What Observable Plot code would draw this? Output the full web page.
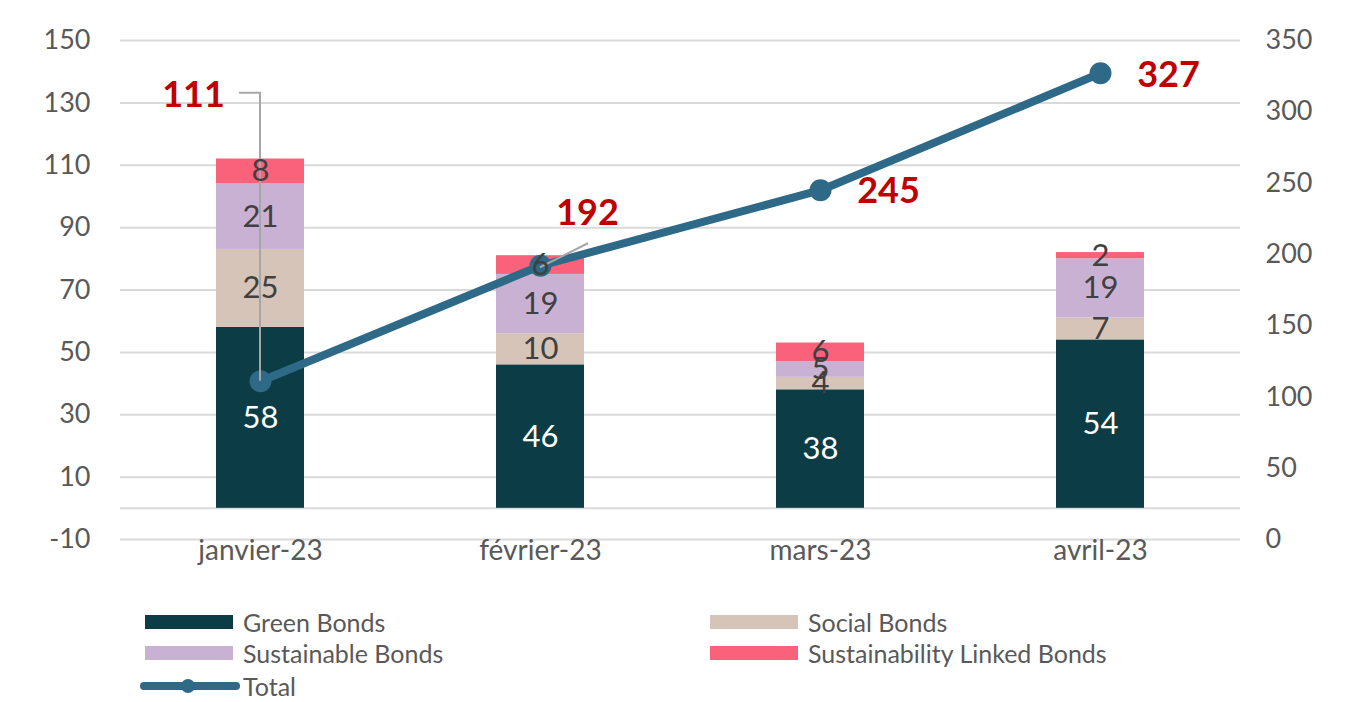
<!DOCTYPE html>
<html>
<head>
<meta charset="utf-8">
<script src="https://cdn.jsdelivr.net/npm/d3@7"></script>
<script src="https://cdn.jsdelivr.net/npm/@observablehq/plot@0.6"></script>
<style>
  body { margin: 0; background: #ffffff; font-family: Lato, "Open Sans", sans-serif; }
  #wrap { position: relative; width: 1359px; height: 702px; }
  #legend { position: absolute; left: 0; top: 590px; width: 1359px; height: 112px; color: #595959; font-size: 25px; }
  .item { position: absolute; display: flex; align-items: center; height: 30px; }
  .sw { width: 88px; height: 14px; margin-right: 10px; }
</style>
</head>
<body>
<div id="wrap"><div id="chart"></div><div id="legend"></div></div>
<script>
const months = ["janvier-23", "février-23", "mars-23", "avril-23"];
const greenBonds = [58, 46, 38, 54];
const socialBonds = [25, 10, 4, 7];
const sustainableBonds = [21, 19, 5, 19];
const linkedBonds = [8, 6, 6, 2];
const totals = [111, 192, 245, 327];
const seriesNames = ["Green Bonds", "Social Bonds", "Sustainable Bonds", "Sustainability Linked Bonds"];
const seriesColors = ["#0c3c45", "#d6c4b9", "#c9b1d4", "#fa617a"];
const totalName = "Total";
const totalColor = "#2e6a87";
const leftTicks = [-10, 10, 30, 50, 70, 90, 110, 130, 150];
const rightTicks = [0, 50, 100, 150, 200, 250, 300, 350];

const leftMin = -10, leftMax = 150, rightMin = 0, rightMax = 350;
const toLeft = r => leftMin + (r - rightMin) * (leftMax - leftMin) / (rightMax - rightMin);
const toRight = l => rightMin + (l - leftMin) * (rightMax - rightMin) / (leftMax - leftMin);

const seriesValues = [greenBonds, socialBonds, sustainableBonds, linkedBonds];
const rows = [];
months.forEach((m, i) => {
  let acc = 0;
  seriesValues.forEach((vals, s) => {
    const v = vals[i];
    rows.push({month: m, series: seriesNames[s], value: v, y1: acc, y2: acc + v, mid: acc + v / 2});
    acc += v;
  });
});
const totalRows = months.map((m, i) => ({month: m, total: totals[i], y: toLeft(totals[i])}));

function leaders(index, scales) {
  const xs = scales.x;
  const bwRaw = xs.bandwidth;
  const bw = typeof bwRaw === "function" ? bwRaw() : (bwRaw || 0);
  const cx = m => xs(m) + bw / 2;
  const g = d3.create("svg:g").attr("stroke", "#a6a6a6").attr("stroke-width", 2).attr("fill", "none");
  const x0 = cx(totalRows[0].month), y0 = scales.y(totalRows[0].y);
  g.append("path").attr("d", `M${x0 - 21},${y0 - 288}H${x0}V${y0}`);
  const x1 = cx(totalRows[1].month), y1 = scales.y(totalRows[1].y);
  g.append("path").attr("d", `M${x1},${y1 + 2}L${x1 + 48},${y1 - 22}`);
  return g.node();
}

const totalLabelOffsets = [[-67, -286], [47, -52], [68, 1], [68, 2]];

const chart = Plot.plot({
  width: 1359,
  height: 590,
  marginLeft: 120,
  marginRight: 119,
  marginTop: 40,
  marginBottom: 51,
  style: {fontFamily: "Lato, 'Open Sans', sans-serif", color: "#595959", background: "#ffffff"},
  x: {domain: months, padding: 0, axis: null, label: null},
  y: {domain: [leftMin, leftMax], axis: null, label: null},
  color: {domain: seriesNames, range: seriesColors},
  marks: [
    Plot.ruleY(leftTicks, {stroke: "#d9d9d9", strokeWidth: 2}),
    Plot.ruleY([0], {stroke: "#d9d9d9", strokeWidth: 2}),
    Plot.axisY(leftTicks, {anchor: "left", tickSize: 0, tickPadding: 30, fontSize: 27, fill: "#595959", label: null, tickFormat: d => String(d)}),
    Plot.axisY(rightTicks.map(toLeft), {anchor: "right", tickSize: 0, tickPadding: 25, fontSize: 27, fill: "#595959", label: null, textAnchor: "start", tickFormat: d => String(Math.round(toRight(d)))}),
    Plot.axisX({tickSize: 0, tickPadding: 1, fontSize: 28, fill: "#595959", label: null}),
    Plot.barY(rows, {x: "month", y1: "y1", y2: "y2", fill: "series", insetLeft: 96, insetRight: 96}),
    Plot.line(totalRows, {x: "month", y: "y", stroke: totalColor, strokeWidth: 8, strokeLinecap: "round"}),
    Plot.dot(totalRows, {x: "month", y: "y", r: 11, fill: totalColor}),
    leaders,
    Plot.text(rows.filter(d => d.series === seriesNames[0]), {x: "month", y: "mid", text: d => String(d.value), fill: "#ffffff", fontSize: 31}),
    Plot.text(rows.filter(d => d.series !== seriesNames[0]), {x: "month", y: "mid", text: d => String(d.value), fill: "#404040", fontSize: 31}),
    ...totalRows.map((d, i) => Plot.text([d], {x: "month", y: "y", text: r => String(r.total), fill: "#c00000", fontSize: 36, fontWeight: "bold", dx: totalLabelOffsets[i][0], dy: totalLabelOffsets[i][1]}))
  ]
});
document.getElementById("chart").appendChild(chart);

const legend = document.getElementById("legend");
const legendItems = [
  {name: seriesNames[0], color: seriesColors[0], left: 145, top: 17},
  {name: seriesNames[1], color: seriesColors[1], left: 710, top: 17},
  {name: seriesNames[2], color: seriesColors[2], left: 145, top: 48},
  {name: seriesNames[3], color: seriesColors[3], left: 710, top: 48}
];
legendItems.forEach(it => {
  const el = document.createElement("div");
  el.className = "item";
  el.style.left = it.left + "px";
  el.style.top = it.top + "px";
  el.innerHTML = `<div class="sw" style="background:${it.color}"></div><span>${it.name}</span>`;
  legend.appendChild(el);
});
const tot = document.createElement("div");
tot.className = "item";
tot.style.left = "140px";
tot.style.top = "81px";
tot.innerHTML = `<svg width="100" height="20" style="margin-right:3px"><line x1="4" y1="10" x2="96" y2="10" stroke="${totalColor}" stroke-width="8" stroke-linecap="round"/><circle cx="48" cy="10" r="7" fill="${totalColor}"/></svg><span>${totalName}</span>`;
legend.appendChild(tot);
</script>
</body>
</html>
